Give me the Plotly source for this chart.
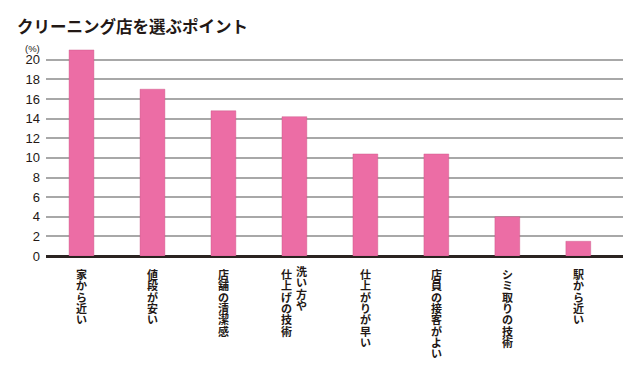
import plotly.graph_objects as go

title = "クリーニング店を選ぶポイント"
categories = ["家から近い", "値段が安い", "店舗の清潔感", "洗い方や 仕上げの技術",
              "仕上がりが早い", "店員の接客がよい", "シミ取りの技術", "駅から近い"]
values = [21.0, 17.0, 14.8, 14.2, 10.4, 10.4, 4.0, 1.5]
y_ticks = [0, 2, 4, 6, 8, 10, 12, 14, 16, 18, 20]
unit_label = "(%)"

FONT = "Noto Sans CJK JP"
xs = list(range(len(categories)))

fig = go.Figure()
fig.add_trace(go.Bar(
    x=xs, y=values, width=0.35,
    marker=dict(color="#EC6DA5", line=dict(color="rgba(200,80,130,0.5)", width=0.8)),
    hoverinfo="skip",
))

annotations = []
# vertical category labels (columns read right to left);
# small base font sets the line pitch, inner span sets glyph size
for i, cat in enumerate(categories):
    cols = cat.split(" ")
    n = len(cols)
    for c, col in enumerate(cols):
        xshift = ((n - 1) / 2 - c) * 15
        yshift = -9 + (3 if (n > 1 and c == 0) else 0)
        text = "<br>".join('<span style="font-size:11px"><b>%s</b></span>' % ch for ch in col)
        annotations.append(dict(
            x=i, y=0, xref="x", yref="y", text=text, showarrow=False,
            xanchor="center", yanchor="top", xshift=xshift, yshift=yshift,
            align="center", borderpad=0,
            font=dict(family=FONT, size=8.7, color="#231815"),
        ))

annotations.append(dict(
    x=0, y=1, xref="paper", yref="paper", text=unit_label, showarrow=False,
    xanchor="right", yanchor="middle", xshift=-4, yshift=0,
    font=dict(family="Liberation Sans, Arial", size=9.5, color="#231815"),
))

fig.update_layout(
    width=640, height=376,
    margin=dict(l=46, r=17, t=48, b=120),
    paper_bgcolor="white", plot_bgcolor="white",
    showlegend=False,
    annotations=annotations,
    title=dict(text="<b>" + title + "</b>", xref="container", yref="container",
               x=17 / 640, y=1 - 27 / 376, xanchor="left", yanchor="middle",
               font=dict(family=FONT, size=16.5, color="#231815", weight=900)),
    xaxis=dict(range=[-0.5, 7.63], showticklabels=False, showgrid=False,
               zeroline=False, showline=False, fixedrange=True, automargin=False),
    yaxis=dict(range=[0, 21.2], tickvals=y_ticks, showgrid=True,
               gridcolor="rgba(110,110,110,0.6)", gridwidth=1.5,
               zeroline=True, zerolinecolor="#2a2320", zerolinewidth=2.5,
               layer="above traces", ticks="", ticklabelstandoff=5,
               tickfont=dict(family="Liberation Sans, Arial", size=13, color="#231815"),
               fixedrange=True, automargin=False),
)

fig.write_html("out.html", config={"displayModeBar": False},
               post_script="document.body.style.margin='0';")
